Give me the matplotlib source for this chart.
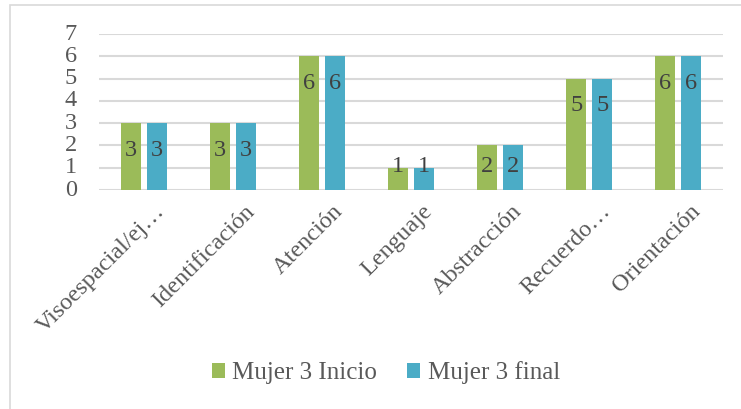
import numpy as np
import matplotlib.pyplot as plt
from matplotlib.patches import Rectangle
import matplotlib.transforms as mtransforms

# Puntajes por dominio
categorias = ['Visoespacial/ej…', 'Identificación', 'Atención', 'Lenguaje',
              'Abstracción', 'Recuerdo…', 'Orientación']
inicio = [3, 3, 6, 1, 2, 5, 6]
final = [3, 3, 6, 1, 2, 5, 6]

verde = '#9BBB59'
azul = '#4BACC6'
gris = '#595959'

plt.rcParams['font.family'] = ['Liberation Serif', 'DejaVu Serif']

fig = plt.figure(figsize=(7.41, 4.09), dpi=100)
ax = fig.add_axes([99 / 741, 1 - 190 / 409, 624 / 741, 156 / 409])

# Marco del gráfico
fig.patches.append(Rectangle((10 / 741, -0.1), 1.1, (409 - 5) / 409 + 0.1,
                             transform=fig.transFigure, fill=False,
                             edgecolor='#d9d9d9', linewidth=1.2))

x = np.arange(len(categorias))
ancho = 0.224
desp = 0.146
b1 = ax.bar(x - desp, inicio, ancho, color=verde, label='Mujer 3 Inicio', zorder=3)
b2 = ax.bar(x + desp, final, ancho, color=azul, label='Mujer 3 final', zorder=3)

# Etiquetas de valor dentro de las barras
for xs, vals in ((x - desp, inicio), (x + desp, final)):
    for xi, v in zip(xs, vals):
        yl = max(v - 1.21, 1.05)
        ax.text(xi, yl, str(v), ha='center', va='center', fontsize=17.5,
                color='#404040', zorder=4)

ax.set_xlim(-0.5, len(categorias) - 0.5)
ax.set_ylim(0, 7)
ax.set_yticks(range(0, 8))
ax.yaxis.grid(True, color='#d9d9d9', linewidth=1.5, zorder=0)
for s in ax.spines.values():
    s.set_visible(False)
ax.tick_params(axis='both', length=0, labelsize=17.5, colors=gris)
ax.tick_params(axis='y', pad=16)
ax.set_yticklabels([str(i) for i in range(0, 8)], va='center')

ax.set_xticks(x)
ax.set_xticklabels(categorias, rotation=45, ha='right', rotation_mode='anchor',
                   fontsize=17.5, color=gris)
offset = mtransforms.ScaledTranslation(11 / 100, -6 / 100, fig.dpi_scale_trans)
for lbl in ax.get_xticklabels():
    lbl.set_transform(lbl.get_transform() + offset)

fig.legend(handles=[b1, b2], loc='center', bbox_to_anchor=(386 / 741, 1 - 373 / 409),
           ncol=2, frameon=False, fontsize=18, handlelength=0.52, handleheight=0.52,
           handletextpad=0.3, columnspacing=1.2, labelcolor=gris)

fig.savefig('out.png', dpi=100)
